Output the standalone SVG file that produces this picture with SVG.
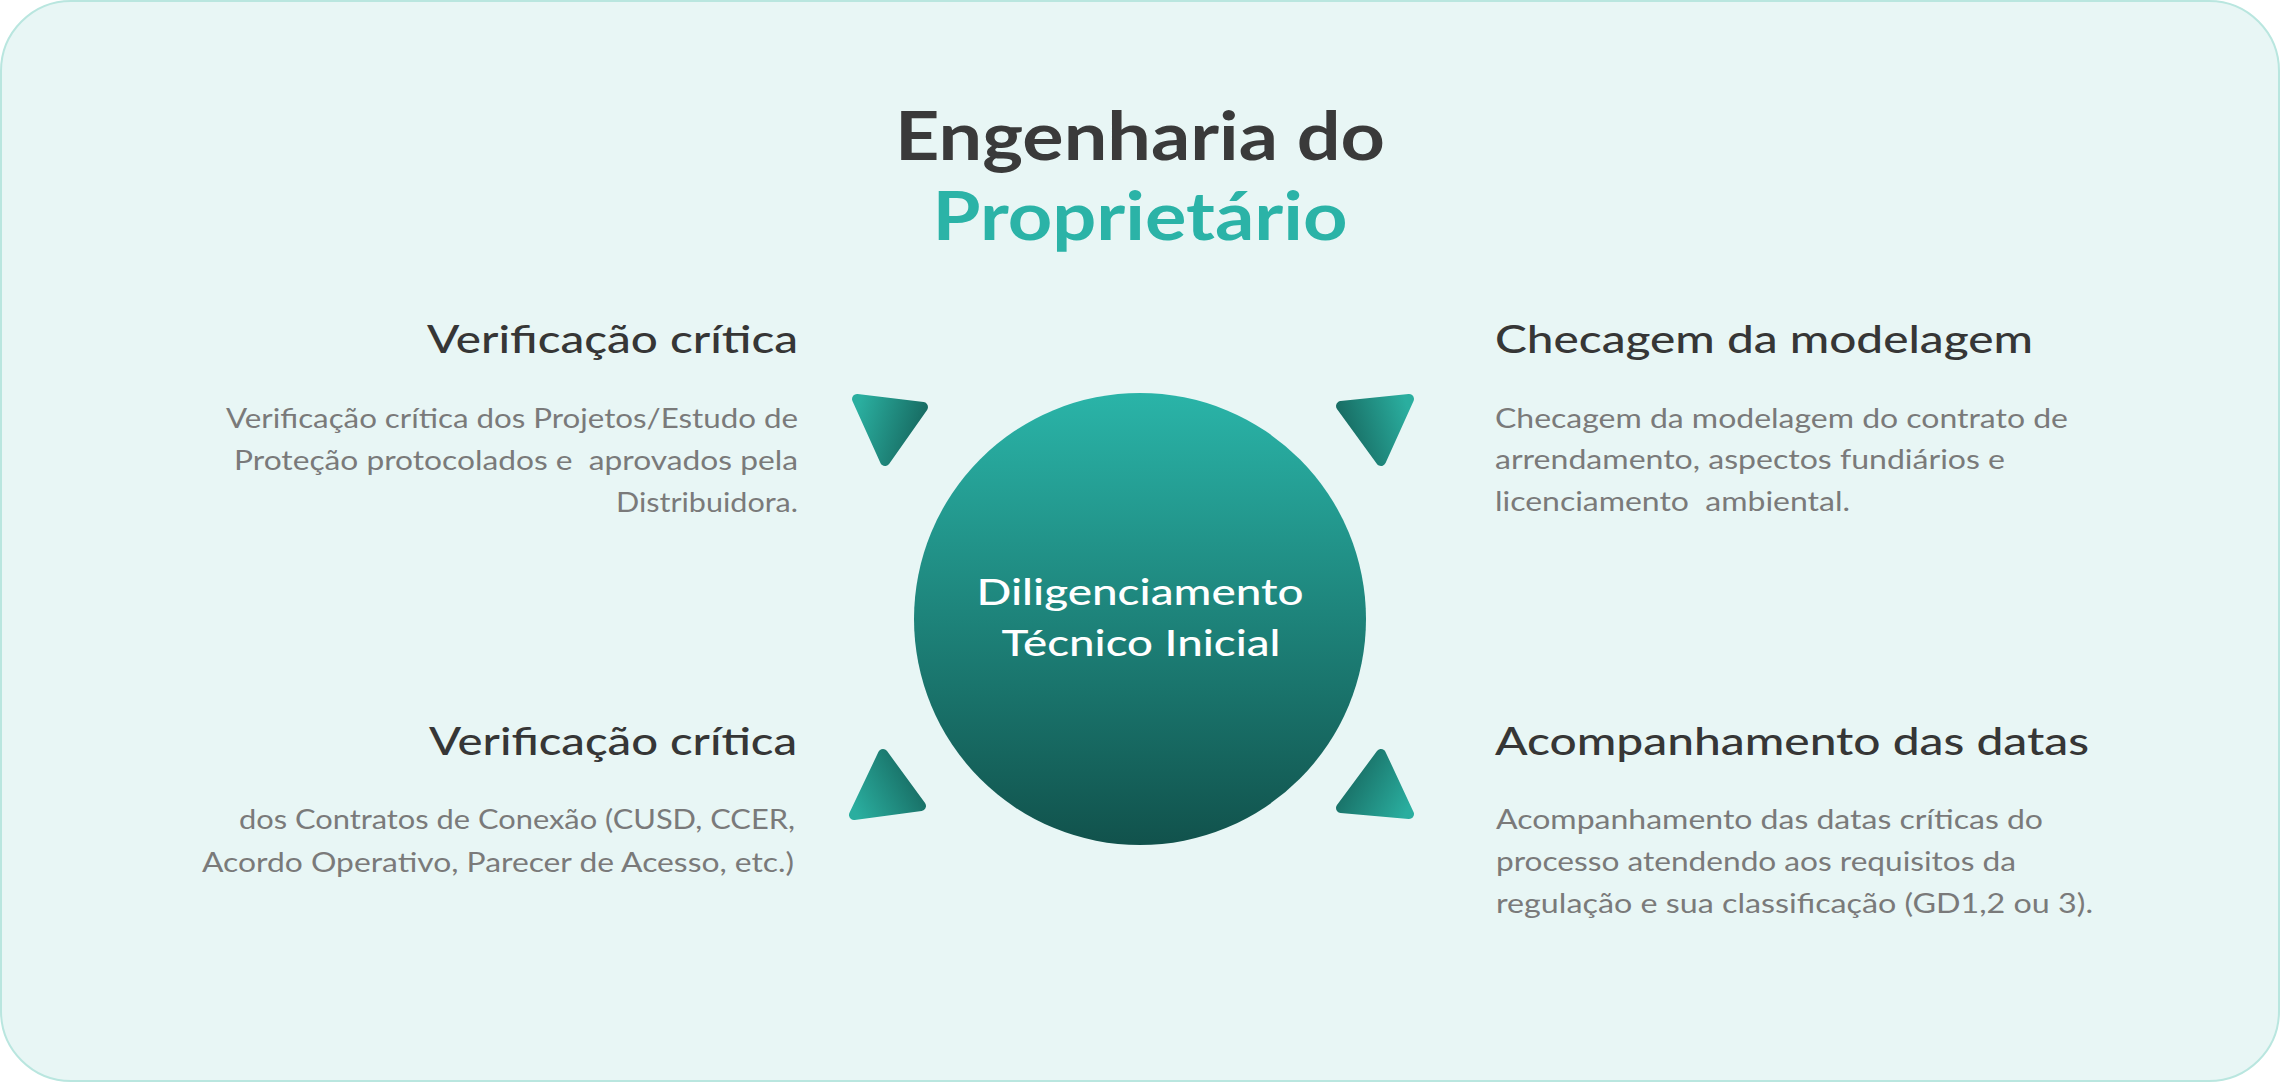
<svg xmlns="http://www.w3.org/2000/svg" width="2280" height="1082" viewBox="0 0 2280 1082">
<defs>
<style>
.title{font-family:Lato,"Noto Sans",sans-serif;font-weight:700;font-size:67px;text-anchor:middle}
.head{font-family:Lato,"Noto Sans",sans-serif;font-weight:500;font-size:38px;fill:#363636}
.body{font-family:Lato,"Noto Sans",sans-serif;font-weight:400;font-size:26px;fill:#7a7a7a}
.ctext{font-family:Lato,"Noto Sans",sans-serif;font-weight:500;font-size:36px;fill:#ffffff;text-anchor:middle}
.r{text-anchor:end}
.tri{stroke-width:10;stroke-linejoin:round}
</style>
<linearGradient id="circGrad" x1="0" y1="0" x2="0" y2="1">
<stop offset="0" stop-color="#2ab4a8"/>
<stop offset="1" stop-color="#11524c"/>
</linearGradient>
<linearGradient id="triLightLeft" x1="0" y1="0.2" x2="1" y2="0.5">
<stop offset="0" stop-color="#2aae9f"/>
<stop offset="1" stop-color="#176a61"/>
</linearGradient>
<linearGradient id="triLightRight" x1="1" y1="0.2" x2="0" y2="0.5">
<stop offset="0" stop-color="#2aae9f"/>
<stop offset="1" stop-color="#176a61"/>
</linearGradient>
<linearGradient id="triLightLeftB" x1="0" y1="0.9" x2="1" y2="0.4">
<stop offset="0" stop-color="#2aae9f"/>
<stop offset="1" stop-color="#176a61"/>
</linearGradient>
<linearGradient id="triLightRightB" x1="1" y1="0.9" x2="0" y2="0.4">
<stop offset="0" stop-color="#2aae9f"/>
<stop offset="1" stop-color="#176a61"/>
</linearGradient>
</defs>

<g id="background">
<rect x="1" y="1" width="2278" height="1080" rx="70" ry="70" fill="#e8f6f5" stroke="#b9e6df" stroke-width="2"/>
</g>

<g id="title">
<text class="title" x="1140" y="160" fill="#3a3a3a" textLength="490" lengthAdjust="spacingAndGlyphs">Engenharia do</text>
<text class="title" x="1140" y="240" fill="#2bb3a7" textLength="415" lengthAdjust="spacingAndGlyphs">Proprietário</text>
</g>

<g id="connectors">
<polygon class="tri" points="857,399 923,407 885,461" fill="url(#triLightLeft)" stroke="url(#triLightLeft)"/>
<polygon class="tri" points="1341,406 1409,399 1381,461" fill="url(#triLightRight)" stroke="url(#triLightRight)"/>
<polygon class="tri" points="883,754 921,806 854,815" fill="url(#triLightLeftB)" stroke="url(#triLightLeftB)"/>
<polygon class="tri" points="1381,754 1409,814 1341,808" fill="url(#triLightRightB)" stroke="url(#triLightRightB)"/>
</g>

<g id="center-node">
<circle cx="1140" cy="619" r="226" fill="url(#circGrad)"/>
<text class="ctext" x="1140" y="605" textLength="327" lengthAdjust="spacingAndGlyphs">Diligenciamento</text>
<text class="ctext" x="1141" y="656" textLength="279" lengthAdjust="spacingAndGlyphs">Técnico Inicial</text>
</g>

<g id="node-top-left">
<text class="head r" x="798" y="353" textLength="371" lengthAdjust="spacingAndGlyphs">Verificação crítica</text>
<text class="body r" x="798" y="428" textLength="572" lengthAdjust="spacingAndGlyphs">Verificação crítica dos Projetos/Estudo de</text>
<text class="body r" x="798" y="470" xml:space="preserve" textLength="564" lengthAdjust="spacingAndGlyphs">Proteção protocolados e  aprovados pela</text>
<text class="body r" x="798" y="512" textLength="182" lengthAdjust="spacingAndGlyphs">Distribuidora.</text>
</g>

<g id="node-top-right">
<text class="head" x="1495" y="353" textLength="538" lengthAdjust="spacingAndGlyphs">Checagem da modelagem</text>
<text class="body" x="1495" y="428" textLength="573" lengthAdjust="spacingAndGlyphs">Checagem da modelagem do contrato de</text>
<text class="body" x="1495" y="469" textLength="510" lengthAdjust="spacingAndGlyphs">arrendamento, aspectos fundiários e</text>
<text class="body" x="1495" y="511" xml:space="preserve" textLength="355" lengthAdjust="spacingAndGlyphs">licenciamento  ambiental.</text>
</g>

<g id="node-bottom-left">
<text class="head r" x="797" y="755" textLength="368" lengthAdjust="spacingAndGlyphs">Verificação crítica</text>
<text class="body r" x="795" y="829" textLength="556" lengthAdjust="spacingAndGlyphs">dos Contratos de Conexão (CUSD, CCER,</text>
<text class="body r" x="794" y="872" textLength="592" lengthAdjust="spacingAndGlyphs">Acordo Operativo, Parecer de Acesso, etc.)</text>
</g>

<g id="node-bottom-right">
<text class="head" x="1495" y="755" textLength="594" lengthAdjust="spacingAndGlyphs">Acompanhamento das datas</text>
<text class="body" x="1496" y="829" textLength="547" lengthAdjust="spacingAndGlyphs">Acompanhamento das datas críticas do</text>
<text class="body" x="1496" y="871" textLength="520" lengthAdjust="spacingAndGlyphs">processo atendendo aos requisitos da</text>
<text class="body" x="1496" y="913" textLength="597" lengthAdjust="spacingAndGlyphs">regulação e sua classificação (GD1,2 ou 3).</text>
</g>
</svg>
